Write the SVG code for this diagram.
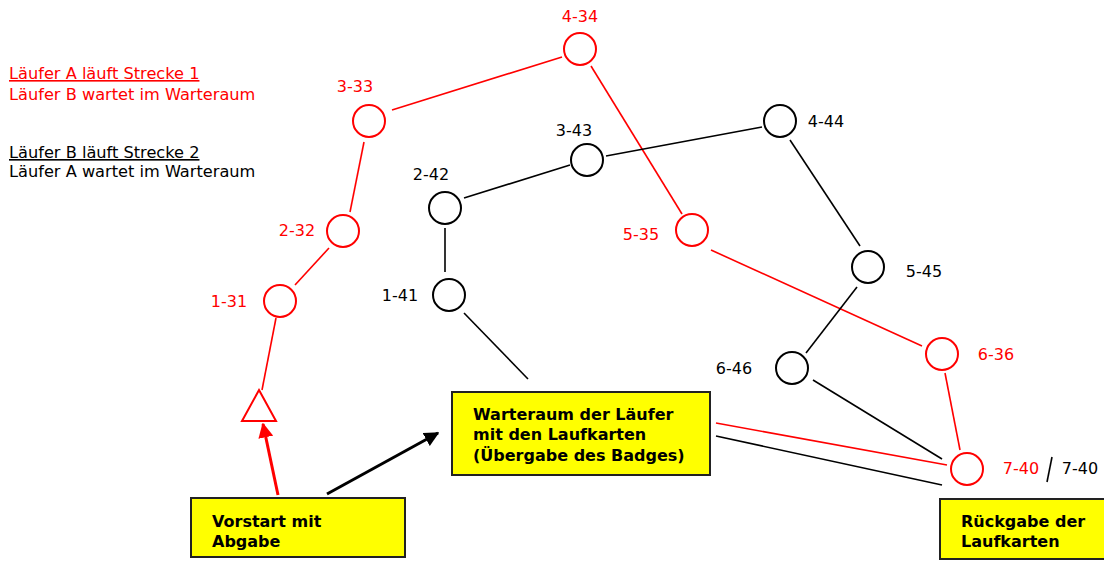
<svg xmlns="http://www.w3.org/2000/svg" width="1104" height="562" viewBox="0 0 1104 562">
<defs>
<style>
text{font-family:"DejaVu Sans","Liberation Sans",sans-serif;font-size:16px}
.lg{font-size:16.2px}
.r{fill:#ff0000}.k{fill:#000}
.nr{fill:none;stroke:#ff0000;stroke-width:2}
.nk{fill:none;stroke:#000;stroke-width:2}
.lr{stroke:#ff0000;stroke-width:1.6}
.lk{stroke:#000;stroke-width:1.6}
.box{fill:#ffff00;stroke:#222;stroke-width:2}
.bt{font-weight:bold;font-size:16px;fill:#000}
</style>
<marker id="ar" viewBox="0 0 10 10" refX="9" refY="5" markerWidth="5" markerHeight="5" orient="auto"><path d="M0,0L10,5L0,10z" fill="#ff0000"/></marker>
<marker id="ak" viewBox="0 0 10 10" refX="9" refY="5" markerWidth="5" markerHeight="5" orient="auto"><path d="M0,0L10,5L0,10z" fill="#000"/></marker>
</defs>
<g id="legend">
<text x="9" y="79" class="r lg" text-decoration="underline">Läufer A läuft Strecke 1</text>
<text x="9" y="100" class="r lg">Läufer B wartet im Warteraum</text>
<text x="9" y="158" class="k lg" text-decoration="underline">Läufer B läuft Strecke 2</text>
<text x="9" y="177" class="k lg">Läufer A wartet im Warteraum</text>
</g>
<g id="connectors">
<line class="lr" x1="392" y1="110" x2="562" y2="57"/>
<line class="lr" x1="591" y1="66" x2="682" y2="214"/>
<line class="lr" x1="364" y1="142" x2="350" y2="212"/>
<line class="lr" x1="329" y1="248" x2="295" y2="285"/>
<line class="lr" x1="276" y1="318" x2="262" y2="390"/>
<line class="lr" x1="711" y1="250" x2="922" y2="346"/>
<line class="lr" x1="945" y1="373" x2="960" y2="450"/>
<line class="lr" x1="716" y1="423" x2="947" y2="465"/>
<line class="lk" x1="464" y1="198" x2="570" y2="165"/>
<line class="lk" x1="606" y1="156" x2="762" y2="127"/>
<line class="lk" x1="790" y1="140" x2="860" y2="246"/>
<line class="lk" x1="445" y1="228" x2="445" y2="272"/>
<line class="lk" x1="464" y1="313" x2="528" y2="379"/>
<line class="lk" x1="857" y1="287" x2="806" y2="353"/>
<line class="lk" x1="813" y1="380" x2="942" y2="459"/>
<line class="lk" x1="716" y1="436" x2="942" y2="485"/>
<line x1="278" y1="495" x2="263" y2="424" stroke="#ff0000" stroke-width="3" marker-end="url(#ar)"/>
<line x1="327" y1="494" x2="438" y2="433" stroke="#000" stroke-width="3" marker-end="url(#ak)"/>
<line x1="1052" y1="457" x2="1047" y2="482" stroke="#000" stroke-width="1.6"/>
</g>
<g id="n4-34"><circle class="nr" cx="580" cy="49" r="16"/><text x="580" y="22" class="r" text-anchor="middle">4-34</text></g>
<g id="n3-33"><circle class="nr" cx="369" cy="121" r="16"/><text x="355" y="92" class="r" text-anchor="middle">3-33</text></g>
<g id="n2-32"><circle class="nr" cx="343" cy="231" r="16"/><text x="297" y="236" class="r" text-anchor="middle">2-32</text></g>
<g id="n1-31"><circle class="nr" cx="280" cy="301" r="16"/><text x="229" y="307" class="r" text-anchor="middle">1-31</text></g>
<g id="start-tri"><path class="nr" d="M259,390L276,421L242,421Z"/></g>
<g id="n5-35"><circle class="nr" cx="692" cy="230" r="16"/><text x="641" y="240" class="r" text-anchor="middle">5-35</text></g>
<g id="n6-36"><circle class="nr" cx="942" cy="354" r="16"/><text x="996" y="360" class="r" text-anchor="middle">6-36</text></g>
<g id="n7-40"><circle class="nr" cx="967" cy="469" r="16"/><text x="1021" y="474" class="r" text-anchor="middle">7-40</text><text x="1080" y="474" class="k" text-anchor="middle">7-40</text></g>
<g id="n1-41"><circle class="nk" cx="449" cy="295" r="16"/><text x="400" y="301" class="k" text-anchor="middle">1-41</text></g>
<g id="n2-42"><circle class="nk" cx="445" cy="208" r="16"/><text x="431" y="180" class="k" text-anchor="middle">2-42</text></g>
<g id="n3-43"><circle class="nk" cx="587" cy="160" r="16"/><text x="574" y="136" class="k" text-anchor="middle">3-43</text></g>
<g id="n4-44"><circle class="nk" cx="780" cy="121" r="16"/><text x="826" y="127" class="k" text-anchor="middle">4-44</text></g>
<g id="n5-45"><circle class="nk" cx="868" cy="267" r="16"/><text x="924" y="277" class="k" text-anchor="middle">5-45</text></g>
<g id="n6-46"><circle class="nk" cx="792" cy="368" r="16"/><text x="734" y="374" class="k" text-anchor="middle">6-46</text></g>
<g id="vorstart"><rect class="box" x="191" y="498" width="214" height="59"/><text class="bt" x="212" y="527">Vorstart mit</text><text class="bt" x="212" y="547">Abgabe</text></g>
<g id="warteraum"><rect class="box" x="452" y="392" width="258" height="83"/><text class="bt" x="473" y="420">Warteraum der Läufer</text><text class="bt" x="473" y="440">mit den Laufkarten</text><text class="bt" x="473" y="461">(Übergabe des Badges)</text></g>
<g id="rueckgabe"><rect class="box" x="940" y="499" width="170" height="60"/><text class="bt" x="961" y="527">Rückgabe der</text><text class="bt" x="961" y="547">Laufkarten</text></g>
</svg>
